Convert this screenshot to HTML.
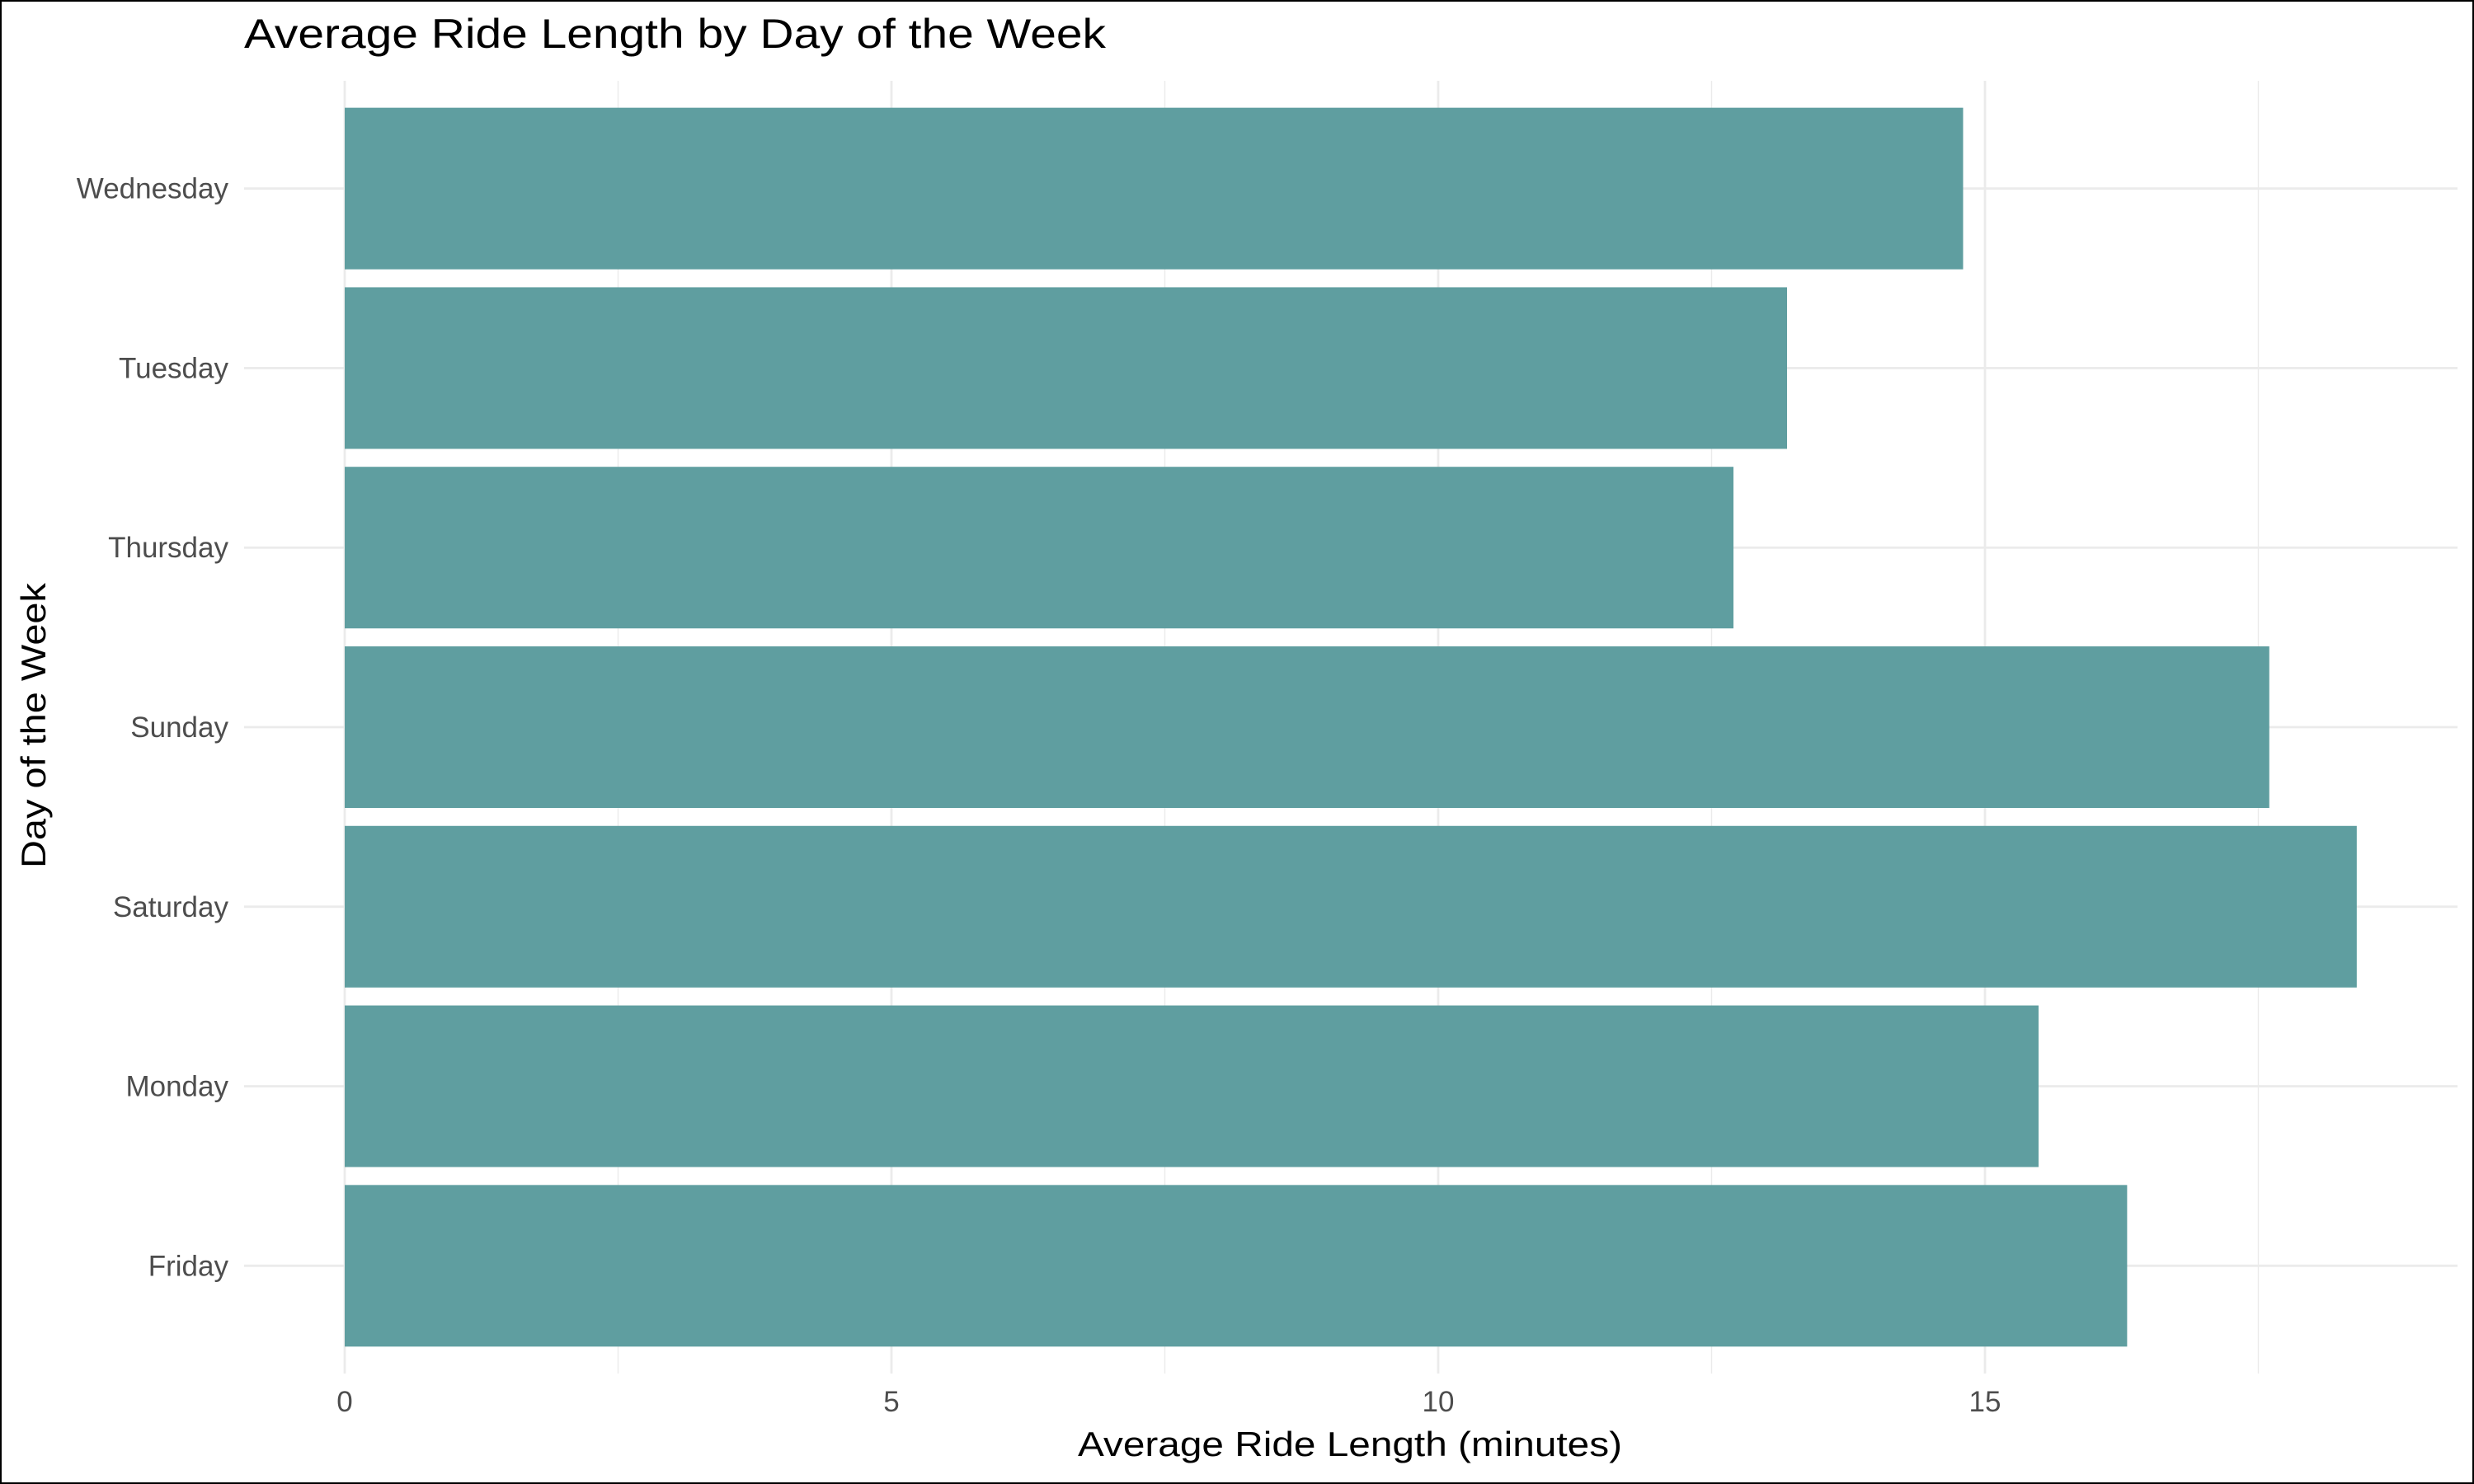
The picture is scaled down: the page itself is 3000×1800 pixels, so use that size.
<!DOCTYPE html>
<html><head><meta charset="utf-8"><style>
html,body{margin:0;padding:0;background:#fff}
svg{display:block}
text{font-family:"Liberation Sans",sans-serif}
</style></head><body>
<svg id="chart" width="3000" height="1800">
<rect x="1" y="1" width="2998" height="1798" fill="#fff" stroke="#000" stroke-width="2"/>
<text x="296" y="58" font-size="50" fill="#000" textLength="1045" lengthAdjust="spacingAndGlyphs">Average Ride Length by Day of the Week</text>
<g id="grid"></g><g id="bars"></g><g id="axes"></g>
<text x="1637" y="1766" font-size="42" text-anchor="middle" fill="#000" textLength="660" lengthAdjust="spacingAndGlyphs">Average Ride Length (minutes)</text>
<text transform="translate(55,880) rotate(-90)" font-size="42" text-anchor="middle" fill="#000" textLength="346" lengthAdjust="spacingAndGlyphs">Day of the Week</text>
</svg>
<script>
const categories = ["Friday","Monday","Saturday","Sunday","Thursday","Tuesday","Wednesday"];
const values = [16.3, 15.49, 18.4, 17.6, 12.7, 13.19, 14.8];
const xTicks = [0, 5, 10, 15];
const xTickLabels = ["0","5","10","15"];
const xMinor = [2.5, 7.5, 12.5, 17.5];

const NS="http://www.w3.org/2000/svg";
const X0=418, PX=132.6, PTOP=98, PBOT=1666, PLEFT=296, PRIGHT=2980;
const nCat=categories.length;
const bandH=(PBOT-PTOP)/(nCat-1+1.2);
function xs(v){return X0+v*PX;}
function ys(i){return PBOT-(i+1-0.4)*bandH;}
function mk(tag,attrs,parent){const e=document.createElementNS(NS,tag);for(const k in attrs)e.setAttribute(k,attrs[k]);parent.appendChild(e);return e;}
const grid=document.getElementById('grid'),bars=document.getElementById('bars'),axes=document.getElementById('axes');
xMinor.forEach(v=>{
  const l=mk('line',{x1:xs(v),x2:xs(v),y1:PTOP,y2:PBOT,stroke:'#ebebeb','stroke-width':1.4},grid);
  
  
});
xTicks.forEach((v,i)=>{
  const l=mk('line',{x1:xs(v),x2:xs(v),y1:PTOP,y2:PBOT,stroke:'#ebebeb','stroke-width':2.8},grid);
  
  
  const t=mk('text',{x:xs(v),y:1712,'font-size':35,'text-anchor':'middle',fill:'#4d4d4d'},axes);
  t.textContent=xTickLabels[i];
  
  
});
categories.forEach((c,i)=>{
  const y=ys(i);
  const l=mk('line',{x1:PLEFT,x2:PRIGHT,y1:y,y2:y,stroke:'#ebebeb','stroke-width':2.8},grid);
  
  
  const h=0.9*bandH;
  const r=mk('rect',{x:xs(0),y:y-h/2,width:xs(values[i])-xs(0),height:h,fill:'#5f9ea0'},bars);
  
  
  const t=mk('text',{x:277,y:y+12,'font-size':35,'text-anchor':'end',fill:'#4d4d4d'},axes);
  t.textContent=c;
  
  
});
</script>
</body></html>
